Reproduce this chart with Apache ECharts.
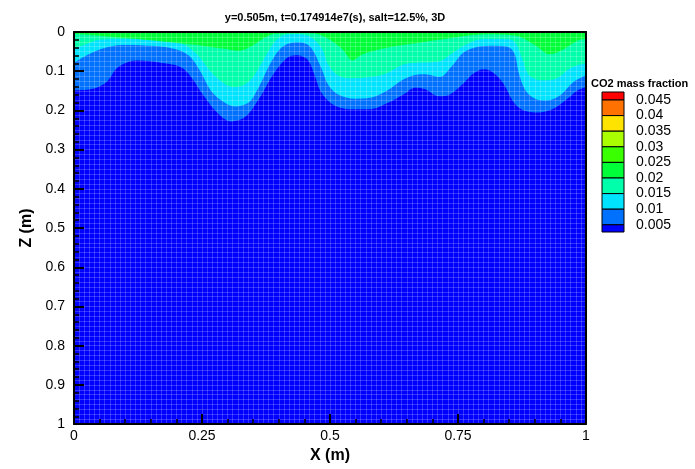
<!DOCTYPE html>
<html>
<head>
<meta charset="utf-8">
<script src="https://cdn.jsdelivr.net/npm/echarts@6.0.0/dist/echarts.min.js"></script>
<style>
html,body{margin:0;padding:0;background:#fff;}
#chart{width:695px;height:469px;}
</style>
</head>
<body>
<div id="chart"></div>
<script>
// ---- data ----
const titleText = 'y=0.505m, t=0.174914e7(s), salt=12.5%, 3D';
const xTickLabels = ['0', '0.25', '0.5', '0.75', '1'];
const zTickLabels = ['0', '0.1', '0.2', '0.3', '0.4', '0.5', '0.6', '0.7', '0.8', '0.9', '1'];

// contour 0.005 (lower edge of the 0.005-0.01 band), depth z (m) vs x (m)
const x005 = [0,0.037,0.064,0.084,0.105,0.125,0.172,0.206,0.226,0.253,0.280,0.307,0.334,0.361,0.388,0.416,0.436,0.456,0.470,0.483,0.510,0.544,0.578,0.611,0.645,0.666,0.686,0.713,0.733,0.760,0.780,0.801,0.818,0.838,0.857,0.875,0.909,0.936,0.963,0.983,1];
const z005 = [0.149,0.145,0.127,0.092,0.077,0.073,0.079,0.088,0.110,0.162,0.206,0.228,0.217,0.171,0.110,0.066,0.059,0.070,0.110,0.154,0.188,0.197,0.197,0.182,0.158,0.142,0.146,0.164,0.160,0.132,0.106,0.095,0.103,0.130,0.176,0.198,0.205,0.196,0.171,0.149,0.140];

// contour 0.01
const x010 = [0,0.024,0.051,0.078,0.105,0.159,0.199,0.226,0.247,0.267,0.294,0.314,0.341,0.361,0.382,0.402,0.422,0.443,0.463,0.483,0.497,0.517,0.551,0.578,0.611,0.638,0.659,0.686,0.713,0.740,0.760,0.787,0.821,0.848,0.861,0.868,0.882,0.902,0.922,0.949,0.976,1];
const z010 = [0.078,0.060,0.044,0.035,0.033,0.036,0.044,0.062,0.101,0.149,0.180,0.190,0.180,0.140,0.084,0.044,0.029,0.027,0.040,0.092,0.136,0.160,0.170,0.168,0.150,0.125,0.112,0.108,0.115,0.084,0.053,0.038,0.035,0.038,0.057,0.101,0.149,0.171,0.175,0.162,0.127,0.110];

// contour 0.015
const x015 = [0,0.024,0.051,0.105,0.172,0.213,0.240,0.267,0.294,0.314,0.341,0.361,0.382,0.402,0.429,0.456,0.483,0.497,0.517,0.544,0.578,0.611,0.645,0.679,0.713,0.740,0.767,0.801,0.841,0.861,0.875,0.889,0.915,0.943,0.970,1];
const z015 = [0.042,0.031,0.020,0.018,0.020,0.031,0.057,0.101,0.132,0.141,0.127,0.092,0.044,0.013,0.005,0.009,0.040,0.084,0.112,0.118,0.115,0.105,0.082,0.078,0.075,0.053,0.031,0.018,0.018,0.026,0.066,0.110,0.123,0.118,0.092,0.079];

// contour 0.02
const x020 = [0,0.037,0.105,0.172,0.240,0.294,0.321,0.348,0.375,0.395,0.443,0.470,0.497,0.524,0.544,0.564,0.591,0.632,0.672,0.713,0.753,0.807,0.861,0.902,0.929,0.956,0.983,1];
const z020 = [0.005,0.008,0.016,0.024,0.033,0.043,0.048,0.035,0.013,0.004,0.003,0.004,0.018,0.044,0.072,0.057,0.046,0.035,0.028,0.020,0.012,0.006,0.009,0.035,0.057,0.044,0.022,0.018];

// legend
const legendTitle = 'CO2 mass fraction';
const legendLevels = ['0.045','0.04','0.035','0.03','0.025','0.02','0.015','0.01','0.005'];
const legendColors = ['#ff0000','#ff7100','#ffe300','#aaff00','#39ff00','#00ff39','#00ffaa','#00e3ff','#0071ff','#0000ff'];

// bands drawn in the plot (colour index into legendColors, from the bottom band up)
const bandContours = [
  {xs: x005, zs: z005, color: legendColors[8]},
  {xs: x010, zs: z010, color: legendColors[7]},
  {xs: x015, zs: z015, color: legendColors[6]},
  {xs: x020, zs: z020, color: legendColors[5]}
];

// ---- chart ----
const FONT = 'Liberation Sans, Arial, Helvetica, sans-serif';
const chart = echarts.init(document.getElementById('chart'), null, {renderer: 'canvas'});

const series = bandContours.map(function (b, i) {
  return {
    type: 'line',
    name: 'band' + i,
    data: b.xs.map(function (x, k) { return [x, b.zs[k]]; }),
    smooth: 0.35,
    showSymbol: false,
    symbol: 'none',
    silent: true,
    lineStyle: {width: 0, opacity: 0},
    areaStyle: {color: b.color, opacity: 1, origin: 'start'},
    z: 2
  };
});

// legend graphic built from legend arrays
const lgX = 602, lgW = 22, lgTop = 92, lgFirst = 100, lgStep = 15.6, lgBottom = 232;
const graphics = [];
const bounds = legendLevels.map(function (_, i) { return lgFirst + lgStep * i; });
const edges = [lgTop].concat(bounds).concat([lgBottom]);
legendColors.forEach(function (c, i) {
  graphics.push({
    type: 'rect',
    shape: {x: lgX, y: edges[i], width: lgW, height: edges[i + 1] - edges[i]},
    style: {fill: c, stroke: '#000', lineWidth: 1},
    silent: true
  });
});
legendLevels.forEach(function (t, i) {
  graphics.push({
    type: 'text',
    style: {x: 636, y: bounds[i], text: t, font: '14px ' + FONT, fill: '#000', textVerticalAlign: 'middle', verticalAlign: 'middle'},
    silent: true
  });
});
graphics.push({
  type: 'text',
  style: {x: 591, y: 84, text: legendTitle, font: 'bold 11px ' + FONT, fill: '#000', textVerticalAlign: 'middle', verticalAlign: 'middle'},
  silent: true
});

const option = {
  animation: false,
  backgroundColor: '#ffffff',
  title: {
    text: titleText,
    left: 330,
    top: 7,
    textAlign: 'center',
    textStyle: {fontFamily: FONT, fontWeight: 'bold', fontSize: 11, color: '#000'}
  },
  grid: {
    left: 74, top: 32, width: 512, height: 395,
    show: true, backgroundColor: '#0000ff', borderWidth: 0,
    containLabel: false
  },
  xAxis: [
    {
      type: 'value', min: 0, max: 1, interval: 0.25, position: 'bottom', z: 5,
      name: 'X (m)', nameLocation: 'middle', nameGap: 20,
      nameTextStyle: {fontFamily: FONT, fontWeight: 'bold', fontSize: 16, color: '#000'},
      axisLine: {show: true, onZero: false, lineStyle: {color: '#000', width: 2}},
      axisTick: {show: true, inside: true, length: 10, lineStyle: {color: '#000', width: 2}},
      minorTick: {show: true, splitNumber: 5, length: 5, lineStyle: {color: '#000', width: 1.5}},
      axisLabel: {
        margin: 5, fontFamily: FONT, fontSize: 14, color: '#000',
        formatter: function (v) { return xTickLabels[Math.round(v / 0.25)]; }
      },
      splitLine: {show: false}
    },
    {
      type: 'value', min: 0, max: 1, interval: 0.01, position: 'top', z: 3,
      axisLine: {show: true, onZero: false, lineStyle: {color: '#000', width: 2}},
      axisTick: {show: false}, axisLabel: {show: false},
      splitLine: {show: true, lineStyle: {color: 'rgba(255,255,255,0.2)', width: 1}}
    }
  ],
  yAxis: [
    {
      type: 'value', min: 0, max: 1, interval: 0.1, inverse: true, position: 'left', z: 5,
      name: 'Z (m)', nameLocation: 'middle', nameGap: 30,
      nameTextStyle: {fontFamily: FONT, fontWeight: 'bold', fontSize: 16, color: '#000'},
      axisLine: {show: true, onZero: false, lineStyle: {color: '#000', width: 2}},
      axisTick: {show: true, inside: true, length: 10, lineStyle: {color: '#000', width: 2}},
      minorTick: {show: true, splitNumber: 5, length: 5, lineStyle: {color: '#000', width: 1.5}},
      axisLabel: {
        margin: 9, fontFamily: FONT, fontSize: 14, color: '#000',
        formatter: function (v) { return zTickLabels[Math.round(v * 10)]; }
      },
      splitLine: {show: false}
    },
    {
      type: 'value', min: 0, max: 1, interval: 0.0125, inverse: true, position: 'right', z: 3,
      axisLine: {show: true, onZero: false, lineStyle: {color: '#000', width: 2}},
      axisTick: {show: false}, axisLabel: {show: false},
      splitLine: {show: true, lineStyle: {color: 'rgba(255,255,255,0.2)', width: 1}}
    }
  ],
  series: series,
  graphic: graphics
};
chart.setOption(option);
</script>
</body>
</html>
